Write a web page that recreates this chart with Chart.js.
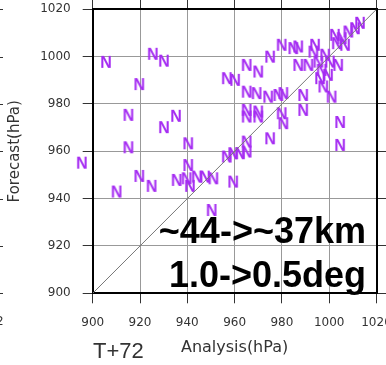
<!DOCTYPE html>
<html>
<head>
<meta charset="utf-8">
<script src="https://cdn.jsdelivr.net/npm/chart.js@4"></script>
<style>
  html, body { margin: 0; padding: 0; background: #fff; }
  #wrap { width: 386px; height: 365px; position: relative; }
</style>
</head>
<body>
<div id="wrap"><canvas id="scatterChart"></canvas></div>
<script>
// Analysis vs forecast central pressure (hPa)
const analysisHPa = [
  905.6, 925.4, 930.1, 919.7, 915.1, 930.1, 935.2, 915.1, 895.4, 940.4,
  940.4, 910.1, 919.7, 924.9, 935.5, 939.7, 941.1, 944.0, 947.5, 951.0,
  959.4, 950.3, 956.7, 959.4, 962.3, 965.1, 965.1, 956.7, 960.2, 965.1,
  970.0, 975.0, 979.9, 984.8, 965.1, 969.3, 974.2, 978.5, 980.6, 965.1,
  970.0, 965.1, 970.0, 979.9, 980.6, 975.0, 989.0, 989.0, 1001.0, 1004.6,
  1004.6, 994.0, 993.3, 986.9, 986.9, 991.2, 995.4, 996.8, 996.1, 997.5,
  1000.3, 1003.8, 1002.4, 1005.3, 1008.1, 1003.2, 1006.7, 1010.9, 1013.0, 998.3,
  999.5
];
const forecastHPa = [
  997.8, 1001.2, 998.3, 988.4, 975.4, 970.2, 975.0, 961.7, 955.2, 963.4,
  954.2, 943.0, 949.6, 945.4, 947.9, 948.6, 945.4, 949.3, 949.3, 948.6,
  947.2, 935.2, 957.8, 959.2, 959.2, 959.9, 964.1, 990.9, 990.2, 996.5,
  993.7, 1000.0, 1005.0, 1003.6, 985.2, 984.6, 983.1, 983.8, 984.6, 977.5,
  976.8, 974.7, 974.7, 976.1, 971.9, 965.5, 983.8, 977.5, 983.1, 972.4,
  962.7, 1005.0, 1002.1, 1004.3, 996.5, 996.5, 997.9, 994.4, 990.9, 987.4,
  997.9, 996.5, 1009.2, 1007.8, 1010.6, 1005.7, 1005.0, 1012.0, 1014.3, 1000.8,
  992.3
];
const diagonal = [900, 1020];
const axisMin = 900;
const axisMax = 1020;
const axisStep = 20;

const purple = '#a52cf2';

// "N" glyph used as the point marker
function makeLetterMarker(letter, color) {
  const c = document.createElement('canvas');
  c.width = 16;
  c.height = 16;
  const g = c.getContext('2d');
  g.fillStyle = color;
  g.font = 'bold 16px "Liberation Sans"';
  g.textAlign = 'center';
  g.textBaseline = 'alphabetic';
  g.fillText(letter, 8, 14);
  return c;
}
const markerN = makeLetterMarker('N', purple);

const points = analysisHPa.map((x, i) => ({ x: x, y: forecastHPa[i] }));
const diagPoints = diagonal.map(v => ({ x: v, y: v }));

// Chart.js skips points outside the chart area, the plot shows them anyway
const outsidePoints = {
  id: 'outsidePoints',
  afterDatasetsDraw(chart) {
    const area = chart.chartArea;
    const ctx = chart.ctx;
    chart.getDatasetMeta(1).data.forEach(el => {
      if (el.x < area.left || el.x > area.right || el.y < area.top || el.y > area.bottom) {
        ctx.drawImage(markerN, el.x - markerN.width / 2, el.y - markerN.height / 2);
      }
    });
  }
};

// text labels drawn on top of the plot
const overlayText = {
  id: 'overlayText',
  afterDraw(chart) {
    const ctx = chart.ctx;
    const yScale = chart.scales.y;
    ctx.save();
    ctx.fillStyle = '#000';
    ctx.font = 'bold 36px "Liberation Sans"';
    ctx.textAlign = 'right';
    ctx.textBaseline = 'alphabetic';
    ctx.fillText('~44->~37km', 366, 243);
    ctx.fillText('1.0->0.5deg', 366, 287);

    ctx.fillStyle = '#333';
    ctx.font = '22px "Liberation Sans"';
    ctx.textAlign = 'left';
    ctx.fillText('T+72', 93, 358);

    // bits of the neighbouring panel at the left edge
    ctx.strokeStyle = '#333';
    ctx.lineWidth = 1;
    yScale.ticks.forEach(t => {
      const py = Math.round(yScale.getPixelForValue(t.value)) + 0.5;
      ctx.beginPath();
      ctx.moveTo(0, py);
      ctx.lineTo(3, py);
      ctx.stroke();
    });
    ctx.font = '12px "DejaVu Sans"';
    ctx.textBaseline = 'middle';
    ctx.fillText('2', -4, 322);
    ctx.restore();
  }
};

const gridColor = '#999';
const tickFont = { family: 'DejaVu Sans', size: 12 };
const plainTick = v => String(v);

new Chart(document.getElementById('scatterChart'), {
  type: 'scatter',
  data: {
    datasets: [{
      type: 'line',
      data: diagPoints,
      borderColor: '#777',
      borderWidth: 1,
      pointRadius: 0,
      fill: false
    }, {
      data: points,
      pointStyle: markerN,
      pointRadius: 8,
      clip: false
    }]
  },
  options: {
    responsive: true,
    maintainAspectRatio: false,
    animation: false,
    events: [],
    layout: { padding: 0 },
    plugins: {
      legend: { display: false },
      tooltip: { enabled: false }
    },
    scales: {
      x: {
        type: 'linear',
        position: 'bottom',
        min: axisMin,
        max: axisMax,
        ticks: { stepSize: axisStep, color: '#333', font: tickFont, padding: 12, maxRotation: 0, autoSkip: false, callback: plainTick },
        grid: { color: gridColor, lineWidth: 1, tickLength: 10, tickColor: '#333' },
        border: { color: '#000', width: 2 },
        title: {
          display: true,
          text: 'Analysis(hPa)',
          color: '#333',
          font: { family: 'DejaVu Sans', size: 16 },
          padding: { top: 0, bottom: 8 }
        },
        afterFit(s) { s.height = 71.7; s.paddingLeft = 0; s.paddingRight = 0; }
      },
      y: {
        type: 'linear',
        position: 'left',
        min: axisMin,
        max: axisMax,
        ticks: { stepSize: axisStep, color: '#333', font: tickFont, padding: 12, callback: plainTick },
        grid: { color: gridColor, lineWidth: 1, tickLength: 10, tickColor: '#333' },
        border: { color: '#000', width: 2 },
        title: {
          display: true,
          text: 'Forecast(hPa)',
          color: '#333',
          font: { family: 'DejaVu Sans', size: 15 },
          padding: { top: 6, bottom: 0 }
        },
        afterFit(s) { s.width = 92.7; s.paddingTop = 0; s.paddingBottom = 0; }
      },
      x2: {
        type: 'linear',
        axis: 'x',
        position: 'top',
        min: axisMin,
        max: axisMax,
        ticks: { stepSize: axisStep, display: false },
        grid: { drawOnChartArea: false, tickLength: 10, tickColor: '#333' },
        border: { color: '#000', width: 2 },
        afterFit(s) { s.height = 9.3; s.paddingLeft = 0; s.paddingRight = 0; }
      },
      y2: {
        type: 'linear',
        axis: 'y',
        position: 'right',
        min: axisMin,
        max: axisMax,
        ticks: { stepSize: axisStep, display: false },
        grid: { drawOnChartArea: false, tickLength: 10, tickColor: '#333' },
        border: { color: '#000', width: 2 },
        afterFit(s) { s.width = 9.5; s.paddingTop = 0; s.paddingBottom = 0; }
      }
    }
  },
  plugins: [outsidePoints, overlayText]
});
</script>
</body>
</html>
